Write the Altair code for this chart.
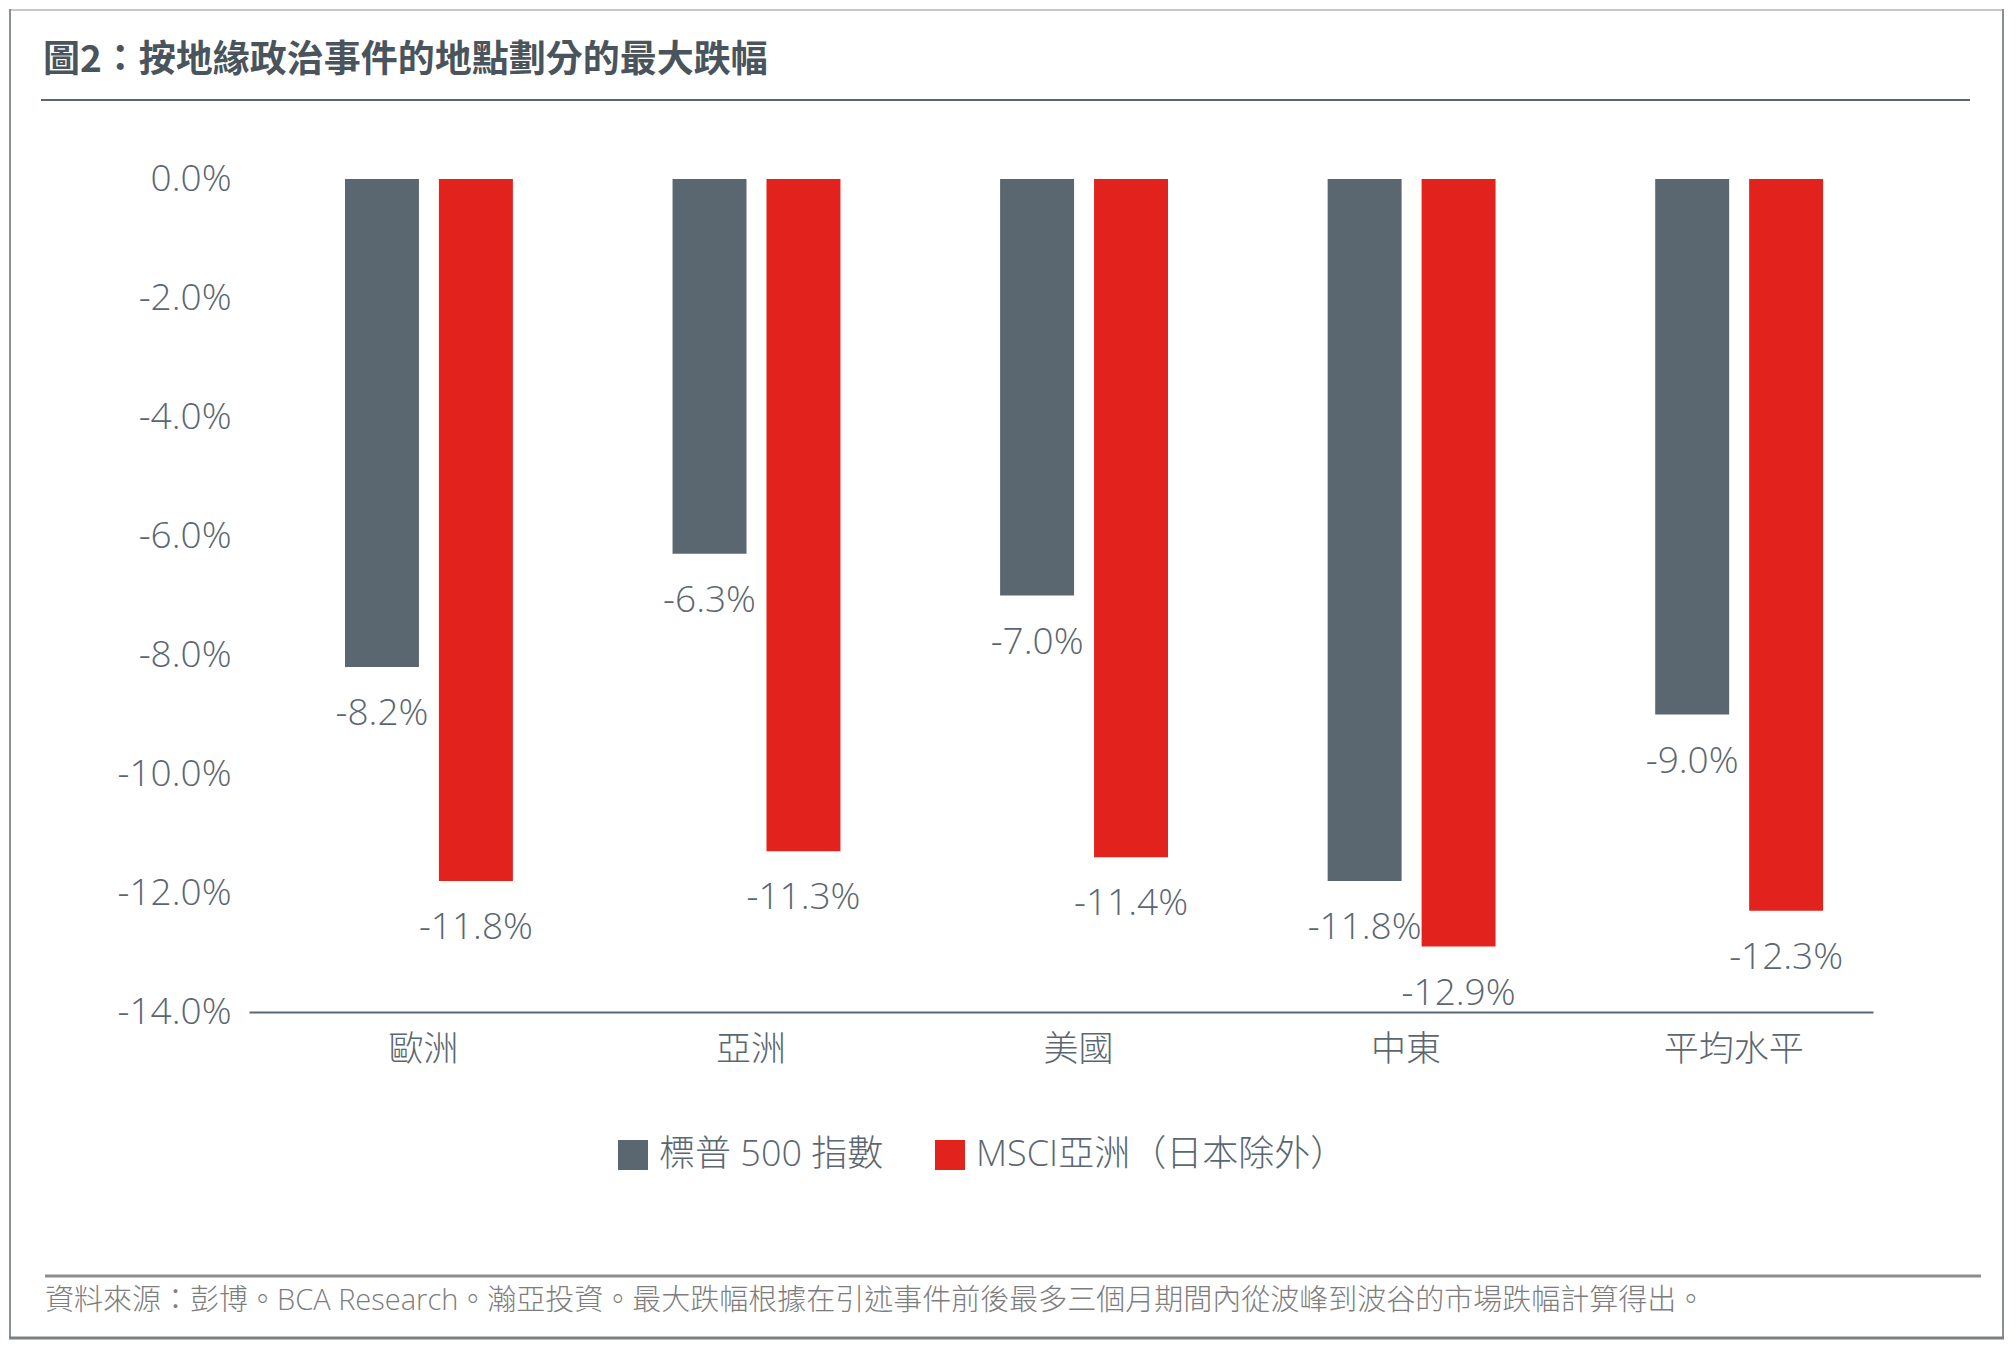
import pandas as pd
import altair as alt

# chart values
REGIONS = ["歐洲", "亞洲", "美國", "中東", "平均水平"]
SERIES = ["標普 500 指數", "MSCI亞洲（日本除外）"]
SP500 = [-8.2, -6.3, -7.0, -11.8, -9.0]
MSCI_ASIA = [-11.8, -11.3, -11.4, -12.9, -12.3]
Y_TICKS = [0, -2, -4, -6, -8, -10, -12, -14]

TITLE = "圖2：按地緣政治事件的地點劃分的最大跌幅"
SOURCE = "資料來源：彭博。BCA Research。瀚亞投資。最大跌幅根據在引述事件前後最多三個月期間內從波峰到波谷的市場跌幅計算得出。"

GRAY = "#5b6770"
RED = "#e2221d"
TEXT = "#5b6770"
TITLE_C = "#4a545c"
FOOT_C = "#7d7d7d"
FRAME_C = "#8a9094"
FONT = "Open Sans, Noto Sans CJK TC"

W, H = 1624, 833

rows = []
for i, region in enumerate(REGIONS):
    rows.append({"region": region, "series": SERIES[0], "value": SP500[i]})
    rows.append({"region": region, "series": SERIES[1], "value": MSCI_ASIA[i]})
df = pd.DataFrame(rows)

pct = "(datum.value < 0 ? '-' : '') + format(abs(datum.value), '.1f') + '%'"

base = alt.Chart(df).encode(
    x=alt.X(
        "region:N",
        sort=REGIONS,
        title=None,
        scale=alt.Scale(paddingInner=0.4874, paddingOuter=0.2227, align=0.658),
        axis=alt.Axis(
            labelAngle=0, labelFontSize=35, labelColor=TEXT, labelFont=FONT,
            labelFontWeight=300, labelPadding=20, tickOffset=-6,
            ticks=False, domainColor=GRAY, domainWidth=2,
        ),
    ),
    xOffset=alt.XOffset("series:N", sort=SERIES, scale=alt.Scale(paddingInner=0.2128)),
    y=alt.Y(
        "value:Q",
        title=None,
        scale=alt.Scale(domain=[-14, 0], nice=False),
        axis=alt.Axis(
            values=Y_TICKS, labelExpr=pct, labelFontSize=37, labelColor=TEXT,
            labelFont=FONT, labelFontWeight=300, labelPadding=18,
            ticks=False, domain=False, grid=False,
        ),
    ),
)

bars = base.mark_bar().encode(
    color=alt.Color(
        "series:N",
        sort=SERIES,
        scale=alt.Scale(domain=SERIES, range=[GRAY, RED]),
        legend=alt.Legend(
            title=None, orient="none", legendX=366, legendY=958,
            direction="horizontal", symbolType="square", symbolSize=900,
            symbolStrokeWidth=0, labelFontSize=36, labelColor=TEXT,
            labelFont=FONT, labelFontWeight=300, labelOffset=8,
            columnPadding=48, padding=0, labelLimit=600,
        ),
    )
)

labels = base.transform_calculate(
    label="(datum.value < 0 ? '-' : '') + format(abs(datum.value), '.1f') + '%'"
).mark_text(
    baseline="middle", dy=47, fontSize=37, font=FONT, fontWeight=300, color=TEXT
).encode(text="label:N")

one = pd.DataFrame({"k": [0]})

title = alt.Chart(one).mark_text(
    align="left", baseline="middle", fontSize=37, fontWeight="bold",
    font="Noto Sans CJK TC", color=TITLE_C
).encode(x=alt.value(-206), y=alt.value(-118), text=alt.value(TITLE))

title_rule = alt.Chart(one).mark_rule(color=GRAY, strokeWidth=2).encode(
    x=alt.value(-208), x2=alt.value(1721), y=alt.value(-79)
)

foot_rule = alt.Chart(one).mark_rule(color="#8c8c8c", strokeWidth=3).encode(
    x=alt.value(-204), x2=alt.value(1732), y=alt.value(1097)
)

source = alt.Chart(one).mark_text(
    align="left", baseline="middle", fontSize=29, font=FONT,
    fontWeight=300, color=FOOT_C
).encode(x=alt.value(-204), y=alt.value(1122), text=alt.value(SOURCE))

# outer frame
frame_top = alt.Chart(one).mark_rule(color="#c8c8c8", strokeWidth=2).encode(
    x=alt.value(-240), x2=alt.value(1755), y=alt.value(-169)
)
frame_left = alt.Chart(one).mark_rule(color=FRAME_C, strokeWidth=2).encode(
    x=alt.value(-239), y=alt.value(-170), y2=alt.value(1160)
)
frame_right = alt.Chart(one).mark_rule(color=FRAME_C, strokeWidth=2).encode(
    x=alt.value(1754), y=alt.value(-170), y2=alt.value(1160)
)
frame_bottom = alt.Chart(one).mark_rule(color="#7b8084", strokeWidth=3).encode(
    x=alt.value(-240), x2=alt.value(1755), y=alt.value(1159)
)

chart = (
    alt.layer(
        bars, labels, title, title_rule, foot_rule, source,
        frame_top, frame_left, frame_right, frame_bottom,
    )
    .properties(
        width=W,
        height=H,
        autosize=alt.AutoSizeParams(type="none"),
        padding={"left": 241, "top": 171, "right": 133, "bottom": 329},
        background="white",
    )
    .configure_view(stroke=None)
)

chart.save("out.html", embed_options={"renderer": "svg", "actions": False})
